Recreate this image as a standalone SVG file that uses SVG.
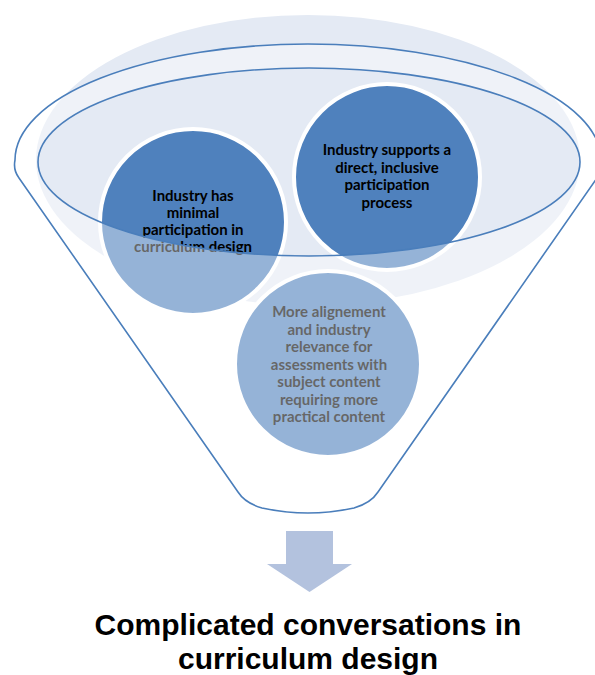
<svg xmlns="http://www.w3.org/2000/svg" width="595" height="675" viewBox="0 0 595 675">
<style>
.bubble{fill:#4F81BD;stroke:#FFFFFF;stroke-width:4}
.lbl{font-family:Lato,"Liberation Sans",sans-serif;font-weight:bold;font-size:15px;fill:#000000;text-anchor:middle}
.outline{fill:none;stroke:#4A7EBB;stroke-width:1.6}
.title{font-family:"Liberation Sans",Arial,sans-serif;font-weight:bold;font-size:30px;fill:#000000;text-anchor:middle}
</style>
<rect width="595" height="675" fill="#FFFFFF"/>
<g id="backdrop">
<ellipse cx="308" cy="160" rx="272" ry="145" fill="#E4EAF4"/>
</g>
<g id="node-minimal">
<circle class="bubble" cx="193" cy="222" r="93"/>
<text class="lbl"><tspan x="193" y="201">Industry has</tspan><tspan x="193" y="218">minimal</tspan><tspan x="193" y="235">participation in</tspan><tspan x="193" y="252">curriculum design</tspan></text>
</g>
<g id="node-supports">
<circle class="bubble" cx="387" cy="177" r="93"/>
<text class="lbl"><tspan x="387" y="155">Industry supports a</tspan><tspan x="387" y="172.5">direct, inclusive</tspan><tspan x="387" y="190">participation</tspan><tspan x="387" y="207.5">process</tspan></text>
</g>
<g id="node-alignment">
<circle class="bubble" cx="328" cy="364" r="93"/>
<text class="lbl"><tspan x="329" y="317">More alignement</tspan><tspan x="329" y="334.5">and industry</tspan><tspan x="329" y="352">relevance for</tspan><tspan x="329" y="369.5">assessments with</tspan><tspan x="329" y="387">subject content</tspan><tspan x="329" y="404.5">requiring more</tspan><tspan x="329" y="422">practical content</tspan></text>
</g>
<g id="funnel">
<path fill="#FFFFFF" fill-opacity="0.4" fill-rule="evenodd" d="M 19,178 Q 13,170 15,160 A 293 116 0 0 1 601 160 Q 603,170 597,178 L 378,492 Q 371,503 354,508 Q 308,518 262,508 Q 245,503 238,492 Z M 38,162 A 271 94 0 1 0 580 162 A 271 94 0 1 0 38 162 Z"/>
<path class="outline" d="M 19,178 Q 13,170 15,160 A 293 116 0 0 1 601 160 Q 603,170 597,178 L 378,492 Q 371,503 354,508 Q 308,518 262,508 Q 245,503 238,492 Z"/>
<ellipse class="outline" cx="309" cy="162" rx="271" ry="94"/>
</g>
<g id="connectors">
<polygon points="286,531 333,531 333,564 352,564 309.5,592 267,564 286,564" fill="#B3C2DE"/>
</g>
<g id="node-title">
<text class="title"><tspan x="308" y="635">Complicated conversations in</tspan><tspan x="308" y="668.5">curriculum design</tspan></text>
</g>
</svg>
